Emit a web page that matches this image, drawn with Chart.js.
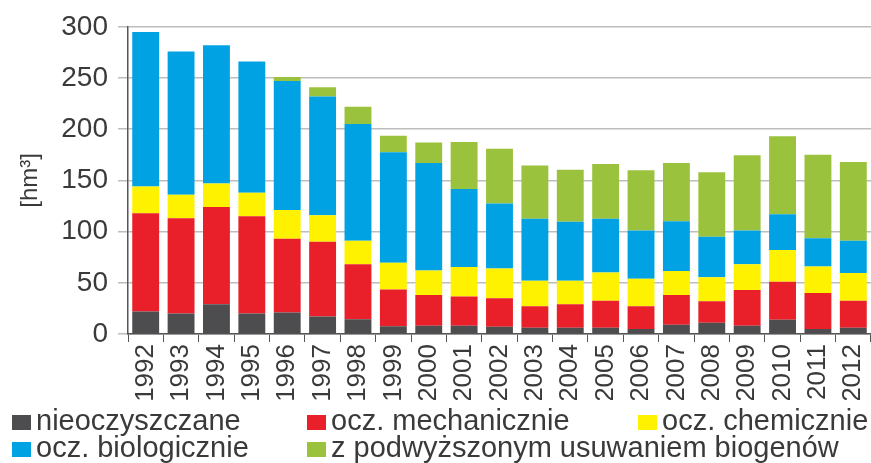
<!DOCTYPE html>
<html>
<head>
<meta charset="utf-8">
<script src="https://cdn.jsdelivr.net/npm/chart.js@4/dist/chart.umd.min.js"></script>
<style>
  html, body { margin: 0; padding: 0; background: #fff; }
  #wrap { position: relative; width: 871px; height: 463px; overflow: hidden; }
  #chartBox { position: absolute; left: 0; top: 0; width: 871px; height: 400px; }
  #legend { position: absolute; left: 0; top: 0; width: 871px; height: 463px;
            font-family: "Liberation Sans", Arial, sans-serif; font-size: 29px; color: #3a3a3a; }
  .item { position: absolute; white-space: nowrap; line-height: 29px; }
  .item i { display: inline-block; width: 19px; height: 15px; margin-right: 5px; vertical-align: baseline; }
</style>
</head>
<body>
<div id="wrap">
  <div id="chartBox"><canvas id="chart"></canvas></div>
  <div id="legend"></div>
</div>
<script>
// lata
const years = ['1992', '1993', '1994', '1995', '1996', '1997', '1998', '1999', '2000', '2001', '2002',
               '2003', '2004', '2005', '2006', '2007', '2008', '2009', '2010', '2011', '2012'];

// ścieki [hm3]
const nieoczyszczane = [22, 20, 29, 20, 21, 17, 14.5, 7.5, 8, 8, 7, 6, 6, 6, 5, 9, 11, 8, 14, 5, 6];
const mechaniczne    = [96, 93, 95, 95, 72, 73, 53.5, 36, 30, 28.5, 28, 21, 23, 26.5, 22, 29, 21, 35, 37, 35, 26.5];
const chemiczne      = [26, 23, 23, 23, 28, 26, 23, 26, 24, 29, 29, 25, 23, 27.5, 27, 23.5, 23.5, 25, 31, 26, 27];
const biologiczne    = [151, 140, 135, 128, 126, 116, 114, 108, 105, 76, 63.5, 60.5, 57.5, 52.5, 47, 48.5, 39.5, 33, 35, 27.5, 31.5];
const biogeny        = [0, 0, 0, 0, 4, 9, 17, 16, 20, 46, 53.5, 52, 51, 53.5, 59, 57, 63, 73.5, 76, 81.5, 77];

const yTicks = [0, 50, 100, 150, 200, 250, 300];

const seriesNames = ['nieoczyszczane', 'ocz. mechanicznie', 'ocz. chemicznie',
                     'ocz. biologicznie', 'z podwyższonym usuwaniem biogenów'];
const seriesColors = ['#4d4d4f', '#e9202a', '#fff200', '#00a2e4', '#9bc23c'];

const seriesData = [nieoczyszczane, mechaniczne, chemiczne, biologiczne, biogeny];

const TEXT = '#3a3a3a';

const chart = new Chart(document.getElementById('chart').getContext('2d'), {
    type: 'bar',
    data: {
        labels: years,
        datasets: seriesData.map((d, i) => ({
            label: seriesNames[i],
            data: d,
            backgroundColor: seriesColors[i],
            borderWidth: 0,
            barPercentage: 0.76,
            categoryPercentage: 1.0
        }))
    },
    options: {
        responsive: true,
        maintainAspectRatio: false,
        animation: false,
        layout: { padding: { left: 14, right: 0, top: 24, bottom: 0 } },
        plugins: {
            legend: { display: false },
            tooltip: { enabled: false }
        },
        scales: {
            x: {
                stacked: true,
                offset: true,
                grid: {
                    offset: true,
                    drawOnChartArea: false,
                    color: '#555',
                    tickLength: 8
                },
                border: { color: '#555', width: 1.5 },
                ticks: {
                    color: TEXT,
                    minRotation: 90,
                    maxRotation: 90,
                    padding: 2,
                    font: { family: '"Liberation Sans Narrow", "Liberation Sans", Arial', size: 26 }
                },
                afterFit: (s) => { s.height = 66; s.paddingRight = 0; s.paddingLeft = 0; }
            },
            y: {
                stacked: true,
                min: 0,
                max: 300,
                afterBuildTicks: (s) => { s.ticks = yTicks.map(v => ({ value: v })); },
                grid: { color: '#bdbdbd', lineWidth: 1.5, tickLength: 10 },
                border: { color: '#555', width: 1.5 },
                ticks: {
                    color: TEXT,
                    padding: 10,
                    font: { family: '"Liberation Sans", Arial', size: 28 }
                },
                title: {
                    display: true,
                    text: '[hm³]',
                    color: TEXT,
                    padding: { top: 2, bottom: 4 },
                    font: { family: '"Liberation Sans", Arial', size: 24 }
                },
                afterFit: (s) => { s.width = 114; }
            }
        }
    }
});

// legenda
const legendPos = [[12, 406], [307, 406], [638, 406], [12, 433], [307, 433]];
const legend = document.getElementById('legend');
seriesNames.forEach((name, i) => {
    const el = document.createElement('div');
    el.className = 'item';
    el.style.left = legendPos[i][0] + 'px';
    el.style.top = legendPos[i][1] + 'px';
    el.innerHTML = '<i style="background:' + seriesColors[i] + '"></i>' + name;
    legend.appendChild(el);
});
</script>
</body>
</html>
